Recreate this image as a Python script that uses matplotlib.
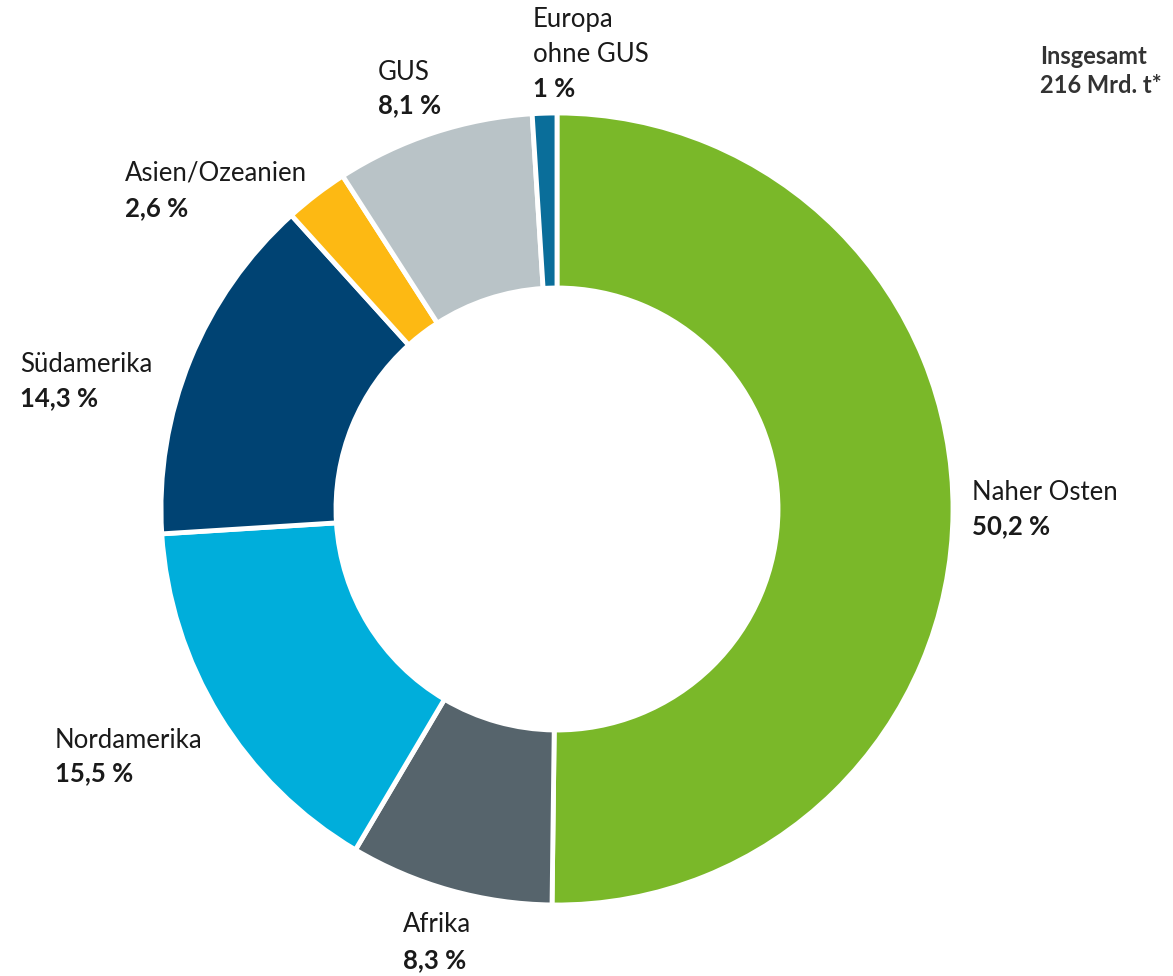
import matplotlib
matplotlib.use("Agg")
import matplotlib.pyplot as plt

regions = ["Naher Osten", "Afrika", "Nordamerika", "Südamerika",
           "Asien/Ozeanien", "GUS", "Europa\nohne GUS"]
shares = [50.2, 8.3, 15.5, 14.3, 2.6, 8.1, 1.0]
share_labels = ["50,2 %", "8,3 %", "15,5 %", "14,3 %", "2,6 %", "8,1 %", "1 %"]
colors = ["#7AB829", "#56646C", "#00AEDB", "#004373", "#FDB913", "#B9C3C7", "#0A6E9A"]

W, H = 1173, 976
fig = plt.figure(figsize=(W / 100, H / 100), dpi=100)
ax = fig.add_axes([0, 0, 1, 1])
ax.set_xlim(0, W)
ax.set_ylim(0, H)
ax.set_aspect("equal")
ax.axis("off")

cx, cy, r_out, r_in = 557, H - 509, 396, 221
ax.pie(shares, colors=colors, startangle=90, counterclock=False,
       center=(cx, cy), radius=r_out,
       wedgeprops=dict(width=r_out - r_in, edgecolor="white", linewidth=3.5))
ax.set_xlim(0, W)
ax.set_ylim(0, H)

font = "Lato"
fs = 18.5
# label positions (pixel, top-left origin): x, y of name line, y of value line
label_pos = {
    "Naher Osten": (972, 492, 526),
    "Afrika": (403, 925, 960),
    "Nordamerika": (55, 740, 773),
    "Südamerika": (20, 365, 398),
    "Asien/Ozeanien": (125, 173, 208),
    "GUS": (378, 72, 105),
    "Europa\nohne GUS": (533, 37, 89),
}
for name, val in zip(regions, share_labels):
    x, y1, y2 = label_pos[name]
    ax.text(x, H - y1, name, fontsize=fs, family=font, color="#1a1a1a",
            ha="left", va="center", linespacing=1.5)
    ax.text(x, H - y2, val, fontsize=fs, family=font, color="#1a1a1a",
            fontweight="bold", ha="left", va="center")

ax.text(1040, H - 71, "Insgesamt\n216 Mrd. t*", fontsize=17, family=font,
        fontweight="bold", color="#333333", ha="left", va="center", linespacing=1.3)

fig.savefig("out.png", dpi=100, facecolor="white")
